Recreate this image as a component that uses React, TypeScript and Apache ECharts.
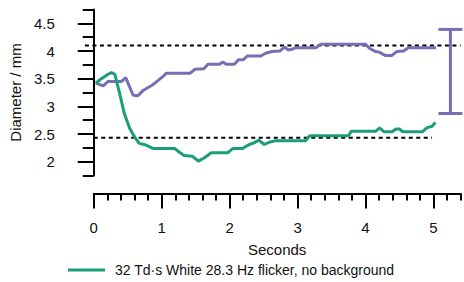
import React, { useEffect, useRef } from "react";
import * as echarts from "echarts";

const purpleName = "Baseline";
const purpleTime = [0.03, 0.14, 0.21, 0.41, 0.47, 0.58, 0.65, 0.72, 0.8, 0.87, 0.94, 1.02, 1.07, 1.42, 1.49, 1.62, 1.68, 1.85, 1.9, 1.95, 2.07, 2.13, 2.2, 2.26, 2.46, 2.53, 2.62, 2.74, 2.81, 2.86, 2.92, 2.97, 3.27, 3.34, 4.0, 4.07, 4.15, 4.2, 4.29, 4.39, 4.46, 4.56, 4.63, 5.04];
const purpleDiameter = [3.42, 3.37, 3.45, 3.45, 3.52, 3.2, 3.19, 3.28, 3.34, 3.39, 3.46, 3.54, 3.6, 3.6, 3.67, 3.68, 3.76, 3.76, 3.8, 3.76, 3.76, 3.84, 3.84, 3.91, 3.91, 3.96, 3.99, 4.0, 4.07, 4.02, 4.03, 4.06, 4.06, 4.12, 4.12, 4.04, 3.99, 3.98, 3.92, 3.92, 3.99, 4.0, 4.06, 4.06];

const greenName = "32 Td·s White 28.3 Hz flicker, no background";
const greenTime = [0.03, 0.09, 0.14, 0.21, 0.26, 0.31, 0.38, 0.45, 0.53, 0.6, 0.67, 0.77, 0.87, 1.19, 1.26, 1.33, 1.45, 1.54, 1.63, 1.73, 1.97, 2.05, 2.19, 2.29, 2.36, 2.43, 2.51, 2.58, 2.68, 3.12, 3.18, 3.75, 3.79, 4.15, 4.21, 4.27, 4.39, 4.45, 4.5, 4.55, 4.84, 4.9, 4.98, 5.03];
const greenDiameter = [3.42, 3.48, 3.52, 3.58, 3.61, 3.58, 3.24, 2.87, 2.6, 2.45, 2.33, 2.3, 2.24, 2.24, 2.17, 2.11, 2.1, 2.01, 2.07, 2.16, 2.16, 2.24, 2.24, 2.31, 2.34, 2.39, 2.31, 2.35, 2.38, 2.38, 2.47, 2.47, 2.55, 2.55, 2.61, 2.54, 2.54, 2.59, 2.59, 2.54, 2.54, 2.61, 2.64, 2.71];

const xTickLabels = [0, 1, 2, 3, 4, 5];
const yTickLabels = [2, 2.5, 3, 3.5, 4, 4.5];

const refLevels = [4.1, 2.43];
const refStart = [-0.13, 0];
const refEnd = [5.4, 4.98];

const errorBarX = [5.25];
const errorBarLow = [2.87];
const errorBarHigh = [4.39];

const FONT = "'Liberation Sans', Arial, sans-serif";
const PURPLE = "#7570b3";
const GREEN = "#1b9e77";

export default function App() {
  const ref = useRef<HTMLDivElement>(null);
  useEffect(() => {
    if (!ref.current) return;
    const chart = echarts.init(ref.current, null, { renderer: "svg" });
    const xBase = { type: "value", min: 0, max: 5.4, position: "bottom", offset: 18, splitLine: { show: false } };
    const yBase = { type: "value", min: 1.75, max: 4.75, position: "left", offset: 15, splitLine: { show: false } };
    const option: any = {
      animation: false,
      textStyle: { fontFamily: FONT },
      grid: { left: 92.3, right: 3.4, top: 9.5, bottom: 106.5, containLabel: false },
      legend: {
        data: [{ name: greenName, icon: "rect" }],
        left: 63,
        top: 258,
        padding: 5,
        itemWidth: 37,
        itemHeight: 3,
        textStyle: { fontSize: 14, color: "#111", fontFamily: FONT, padding: [0, 0, 0, 5] },
      },
      xAxis: [
        {
          ...xBase,
          interval: 0.2,
          axisLine: { show: true, lineStyle: { color: "#000", width: 2 } },
          axisTick: { show: true, length: 7, lineStyle: { color: "#000", width: 2 } },
          axisLabel: { show: false },
        },
        {
          ...xBase,
          interval: 1,
          axisLine: { show: false },
          axisTick: { show: true, customValues: xTickLabels, length: 15, lineStyle: { color: "#000", width: 2 } },
          axisLabel: {
            show: true,
            customValues: xTickLabels,
            fontSize: 15,
            margin: 26,
            color: "#111",
            fontFamily: FONT,
            formatter: (v: number) => (Number.isInteger(v) ? String(v) : ""),
          },
          name: "Seconds",
          nameLocation: "middle",
          nameGap: 48,
          nameTextStyle: { fontSize: 15, color: "#111", fontFamily: FONT },
        },
      ],
      yAxis: [
        {
          ...yBase,
          interval: 0.25,
          axisLine: { show: true, lineStyle: { color: "#000", width: 2 } },
          axisTick: { show: true, length: 11, lineStyle: { color: "#000", width: 2 } },
          axisLabel: { show: false },
        },
        {
          ...yBase,
          interval: 0.25,
          axisLine: { show: false },
          axisTick: { show: true, customValues: yTickLabels, length: 16, lineStyle: { color: "#000", width: 2 } },
          axisLabel: {
            show: true,
            customValues: yTickLabels,
            fontSize: 15,
            margin: 24,
            color: "#111",
            fontFamily: FONT,
            formatter: (v: number) => String(v),
          },
          name: "Diameter / mm",
          nameLocation: "middle",
          nameGap: 50,
          nameRotate: 90,
          nameTextStyle: { fontSize: 15, color: "#111", fontFamily: FONT },
        },
      ],
      series: [
        {
          type: "custom",
          name: "ref",
          xAxisIndex: 0,
          yAxisIndex: 0,
          silent: true,
          encode: { x: [0, 1], y: 2 },
          data: refLevels.map((lv, i) => [refStart[i], refEnd[i], lv]),
          renderItem: (params: any, api: any) => {
            const p0 = api.coord([api.value(0), api.value(2)]);
            const p1 = api.coord([api.value(1), api.value(2)]);
            return {
              type: "line",
              shape: { x1: p0[0], y1: p0[1], x2: p1[0], y2: p1[1] },
              style: { stroke: "#000", lineWidth: 2, lineDash: [4, 3.5], fill: null },
            };
          },
        },
        {
          type: "line",
          name: purpleName,
          xAxisIndex: 0,
          yAxisIndex: 0,
          symbol: "none",
          showSymbol: false,
          color: PURPLE,
          lineStyle: { color: PURPLE, width: 3 },
          data: purpleTime.map((t, i) => [t, purpleDiameter[i]]),
        },
        {
          type: "line",
          name: greenName,
          xAxisIndex: 0,
          yAxisIndex: 0,
          symbol: "none",
          showSymbol: false,
          color: GREEN,
          lineStyle: { color: GREEN, width: 3 },
          data: greenTime.map((t, i) => [t, greenDiameter[i]]),
        },
        {
          type: "custom",
          name: "errorbar",
          xAxisIndex: 0,
          yAxisIndex: 0,
          silent: true,
          encode: { x: 0, y: [1, 2] },
          data: errorBarX.map((x, i) => [x, errorBarLow[i], errorBarHigh[i]]),
          renderItem: (params: any, api: any) => {
            const lo = api.coord([api.value(0), api.value(1)]);
            const hi = api.coord([api.value(0), api.value(2)]);
            const hw = 12;
            const st = { stroke: PURPLE, lineWidth: 3, fill: null };
            return {
              type: "group",
              children: [
                { type: "line", shape: { x1: hi[0], y1: hi[1], x2: lo[0], y2: lo[1] }, style: st },
                { type: "line", shape: { x1: hi[0] - hw, y1: hi[1], x2: hi[0] + hw, y2: hi[1] }, style: st },
                { type: "line", shape: { x1: lo[0] - hw, y1: lo[1], x2: lo[0] + hw, y2: lo[1] }, style: st },
              ],
            };
          },
        },
      ],
    };
    chart.setOption(option);
    return () => chart.dispose();
  }, []);
  return (
    <div
      ref={ref}
      style={{ position: "fixed", left: 0, top: 0, width: 464, height: 282, background: "#fff" }}
    />
  );
}
